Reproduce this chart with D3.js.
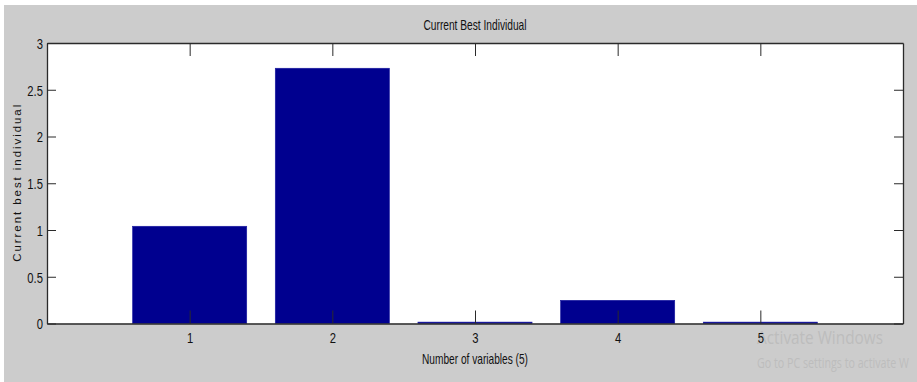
<!DOCTYPE html>
<html>
<head>
<meta charset="utf-8">
<script src="https://cdn.jsdelivr.net/npm/d3@7"></script>
<style>
  html, body { margin: 0; padding: 0; background: #ffffff; }
  svg { display: block; }
</style>
</head>
<body>
<svg id="chart" width="917" height="382"></svg>
<script>
// ---- data ----
const categories = [1, 2, 3, 4, 5];
const values = [1.04, 2.73, 0.015, 0.248, 0.015];
const yTicks = [0, 0.5, 1, 1.5, 2, 2.5, 3];
const yTickLabels = ["0", "0.5", "1", "1.5", "2", "2.5", "3"];
const xTickLabels = ["1", "2", "3", "4", "5"];
const titleText = "Current Best Individual";
const xLabelText = "Number of variables (5)";
const yLabelText = "Current best individual";

// ---- layout ----
const W = 917, H = 382;
const plot = { left: 47, top: 43, right: 903, bottom: 323.5 };
const sans = "'Liberation Sans', Arial, sans-serif";

const svg = d3.select("#chart");

// figure background (white strip on top/left, grey elsewhere)
svg.append("rect").attr("x", 0).attr("y", 0).attr("width", W).attr("height", H).attr("fill", "#ffffff");
svg.append("rect").attr("x", 4).attr("y", 5).attr("width", W - 4).attr("height", H - 5).attr("fill", "#cccccc");

const x = d3.scaleLinear().domain([0, 6]).range([plot.left, plot.right]);
const y = d3.scaleLinear().domain([0, 3]).range([plot.bottom, plot.top]);

// axes background
svg.append("rect")
  .attr("x", plot.left).attr("y", plot.top)
  .attr("width", plot.right - plot.left).attr("height", plot.bottom - plot.top)
  .attr("fill", "#ffffff");

// bars
const barW = 0.8;
svg.append("g").selectAll("rect")
  .data(categories)
  .join("rect")
  .attr("x", (d) => x(d - barW / 2))
  .attr("width", (d) => x(d + barW / 2) - x(d - barW / 2))
  .attr("y", (d, i) => y(values[i]))
  .attr("height", (d, i) => y(0) - y(values[i]))
  .attr("fill", "#00008f")
  .attr("stroke", "#1a1aa0")
  .attr("stroke-width", 0.6);

// watermark (behind tick labels)
svg.append("text")
  .attr("x", 757).attr("y", 344)
  .attr("font-family", "'Open Sans', 'Liberation Sans', sans-serif")
  .attr("font-size", 19)
  .attr("fill", "#bdbdbd")
  .attr("textLength", 126).attr("lengthAdjust", "spacingAndGlyphs")
  .text("Activate Windows");
svg.append("text")
  .attr("x", 757).attr("y", 368)
  .attr("font-family", "'Open Sans', 'Liberation Sans', sans-serif")
  .attr("font-size", 15)
  .attr("fill", "#bdbdbd")
  .attr("textLength", 152).attr("lengthAdjust", "spacingAndGlyphs")
  .text("Go to PC settings to activate W");

// axes with inward ticks on all four sides
const xAxisB = d3.axisBottom(x).tickValues(categories).tickFormat((d, i) => xTickLabels[i]).tickSizeInner(-13).tickSizeOuter(0);
const gxb = svg.append("g").attr("transform", `translate(0,${plot.bottom})`).call(xAxisB);
const xAxisT = d3.axisTop(x).tickValues(categories).tickFormat("").tickSizeInner(-13).tickSizeOuter(0);
const gxt = svg.append("g").attr("transform", `translate(0,${plot.top})`).call(xAxisT);
const yAxisL = d3.axisLeft(y).tickValues(yTicks).tickFormat((d, i) => yTickLabels[i]).tickSizeInner(-9).tickSizeOuter(0);
const gyl = svg.append("g").attr("transform", `translate(${plot.left},0)`).call(yAxisL);
const yAxisR = d3.axisRight(y).tickValues(yTicks).tickFormat("").tickSizeInner(-9).tickSizeOuter(0);
const gyr = svg.append("g").attr("transform", `translate(${plot.right},0)`).call(yAxisR);

[gxb, gxt, gyl, gyr].forEach((g) => {
  g.select(".domain").attr("stroke", "#2a2a2a").attr("stroke-width", 1.3);
  g.selectAll(".tick line").attr("stroke", "#2a2a2a").attr("stroke-width", 1);
  g.selectAll(".tick text")
    .attr("font-family", sans)
    .attr("font-size", 15)
    .attr("fill", "#111111");
});
// condensed look: squeeze labels horizontally
gxb.selectAll(".tick text")
  .attr("x", null).attr("y", null).attr("dy", "0.35em")
  .attr("transform", "translate(0,14) scale(0.75,1)");
gyl.selectAll(".tick text")
  .attr("x", null).attr("dy", "0.35em")
  .attr("transform", "translate(-4,0) scale(0.75,1)");

// title
svg.append("text")
  .attr("x", (plot.left + plot.right) / 2).attr("y", 30)
  .attr("text-anchor", "middle")
  .attr("font-family", sans)
  .attr("font-size", 15)
  .attr("fill", "#111111")
  .attr("textLength", 103).attr("lengthAdjust", "spacingAndGlyphs")
  .text(titleText);

// x label
svg.append("text")
  .attr("x", (plot.left + plot.right) / 2).attr("y", 364)
  .attr("text-anchor", "middle")
  .attr("font-family", sans)
  .attr("font-size", 15)
  .attr("fill", "#111111")
  .attr("textLength", 106).attr("lengthAdjust", "spacingAndGlyphs")
  .text(xLabelText);

// y label
svg.append("text")
  .attr("transform", `translate(21,${(plot.top + plot.bottom) / 2}) rotate(-90)`)
  .attr("text-anchor", "middle")
  .attr("font-family", sans)
  .attr("font-size", 11.5)
  .attr("fill", "#111111")
  .attr("textLength", 157).attr("lengthAdjust", "spacing")
  .text(yLabelText);
</script>
</body>
</html>
